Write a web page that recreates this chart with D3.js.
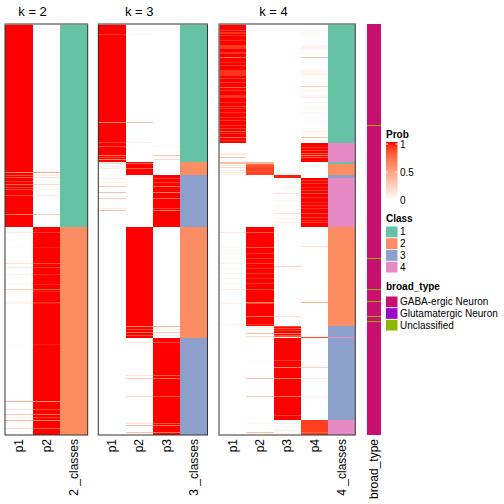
<!DOCTYPE html>
<html><head><meta charset="utf-8">
<script src="https://cdn.jsdelivr.net/npm/d3@7"></script>
<style>body{margin:0;background:#fff}svg{display:block}text{font-family:"Liberation Sans",Arial,Helvetica,sans-serif}</style>
</head><body>
<svg id="chart" width="504" height="504"></svg>
<script>
// ---------------- DATA ----------------
// number of samples (rows); entries are [startRow, endRow, value], later entries override earlier ones
const nRows = 411;
const panelTitles = ["k = 2", "k = 3", "k = 4"];
const classLevels = ["1", "2", "3", "4"];
const classColors = ["#66C2A5", "#FC8D62", "#8DA0CB", "#E78AC3"];
const broadLevels = ["GABA-ergic Neuron", "Glutamatergic Neuron", "Unclassified"];
const broadColors = ["#C8106E", "#9A0AC9", "#8DB600"];
const probTicks = [0, 0.5, 1];

// k = 2
const k2_class = [[0,203,1],[203,411,2]];
const k2_p1 = [[0,203,1],[203,411,0],
  [148,149,0.55],[151,152,0.85],[153,154,0.8],[157,158,0.9],[160,161,0.75],[163,164,0.9],[165,166,0.85],[171,172,0.85],[190,191,0.65],
  [208,209,0.1],[223,224,0.03],[239,240,0.15],[243,244,0.1],[250,251,0.08],[260,261,0.05],[265,266,0.25],[267,268,0.05],
  [278,279,0.08],[279,280,0.03],[320,321,0.03],[377,378,0.45],[385,386,0.15],[390,391,0.3],[393,394,0.1],[396,397,0.4],[404,405,0.2]];
const k2_p2 = [[0,203,0],[203,411,1],
  [148,149,0.45],[151,152,0.1],[153,154,0.15],[157,158,0.05],[160,161,0.2],[163,164,0.06],[165,166,0.08],[171,172,0.1],[190,191,0.3],
  [208,209,0.9],[223,224,0.97],[239,240,0.85],[243,244,0.9],[250,251,0.92],[260,261,0.95],[265,266,0.75],[267,268,0.95],
  [278,279,0.92],[279,280,0.97],[320,321,0.97],[377,378,0.55],[385,386,0.85],[390,391,0.7],[393,394,0.9],[396,397,0.6],[404,405,0.8]];

// k = 3
const k3_class = [[0,138,1],[138,151,2],[151,203,3],[203,314,2],[314,411,3]];
const k3_p1 = [[0,138,1],[138,411,0],
  [10,11,0.9],[98,99,0.6],[118,119,0.85],[122,123,0.85],[131,132,0.7],[133,134,0.9],[135,136,0.6],
  [139,140,0.2],[142,143,0.08],[144,145,0.1],[154,155,0.1],[158,159,0.08],[162,163,0.3],[168,169,0.35],[174,175,0.25],[184,185,0.1],[186,187,0.35]];
const k3_p2 = [[0,138,0],[138,151,1],[151,203,0],[203,314,1],[314,411,0],
  [10,11,0.05],[98,99,0.35],[118,119,0.08],[139,140,0.75],[144,145,0.8],
  [302,303,0.6],[305,306,0.85],[308,309,0.7],[311,312,0.85],
  [318,319,0.1],[351,352,0.15],[354,355,0.3],[372,373,0.2],[399,400,0.15],[401,402,0.35],[408,409,0.35]];
const k3_p3 = [[0,151,0],[151,203,1],[203,314,0],[314,411,1],
  [122,123,0.05],[131,132,0.3],[135,136,0.2],
  [154,155,0.9],[158,159,0.9],[162,163,0.7],[168,169,0.65],[174,175,0.75],[184,185,0.9],[186,187,0.65],
  [302,303,0.4],[305,306,0.1],[308,309,0.25],[311,312,0.1],
  [318,319,0.85],[351,352,0.8],[354,355,0.7],[372,373,0.8],[399,400,0.85],[401,402,0.65],[408,409,0.65]];

// k = 4
const k4_class = [[0,119,1],[119,138,4],[138,140,1],[140,151,2],[151,154,3],[154,203,4],[203,302,2],[302,396,3],[396,411,4],[313,314,4]];
const k4_p1 = [[0,119,1],[119,411,0],
  [6,7,0.88],[8,10,0.93],[11,12,0.92],[16,17,0.94],[21,25,0.92],[28,30,0.93],[33,34,0.7],[38,39,0.94],[41,42,0.9],
  [46,52,0.93],[54,55,0.9],[58,59,0.9],[63,64,0.75],[66,67,0.9],[71,74,0.93],[78,79,0.92],[82,83,0.9],[84,85,0.93],
  [88,89,0.92],[93,94,0.9],[96,97,0.93],[101,102,0.92],[104,105,0.9],[107,108,0.8],[109,110,0.93],[113,114,0.75],[116,117,0.92],
  [129,130,0.1],[130,131,0.15],[133,134,0.35],[138,140,0.35],[141,142,0.15],[143,144,0.2],[146,147,0.1],[148,149,0.15],[150,151,0.1],
  [208,209,0.12],[223,224,0.05],[226,227,0.04],[229,230,0.05],[234,235,0.04],[239,240,0.08],[244,245,0.06],[249,250,0.05],
  [254,255,0.05],[259,260,0.04],[265,266,0.12],[279,280,0.06],[289,290,0.05],[293,294,0.04],[300,301,0.08]];
const k4_p2 = [[0,140,0],[140,151,0.88],[151,203,0],[203,302,1],[302,411,0],
  [138,140,0.4],[140,141,0.7],[142,143,0.8],[144,145,0.9],[147,148,0.85],[149,150,0.9],
  [208,209,0.8],[223,224,0.8],[229,230,0.93],[234,235,0.9],[239,240,0.88],[244,245,0.92],[249,250,0.9],[254,255,0.93],
  [259,260,0.92],[265,266,0.85],[278,279,0.6],[279,280,0.88],[292,293,0.7],[300,301,0.9],
  [303,304,0.1],[305,306,0.05],[309,310,0.35],[312,313,0.2],[318,319,0.03],[336,337,0.03],[354,355,0.35],[372,373,0.3],
  [399,400,0.05],[401,402,0.05],[404,405,0.04],[408,409,0.35]];
const k4_p3 = [[0,151,0],[151,154,0.97],[154,302,0],[302,396,1],[396,411,0],
  [156,157,0.05],[159,160,0.05],[163,164,0.04],[169,170,0.15],[176,177,0.06],[181,182,0.04],[189,190,0.15],[194,195,0.06],[198,199,0.1],
  [242,243,0.25],[292,293,0.15],
  [302,303,0.85],[304,305,0.8],[306,307,0.9],[309,310,0.65],[311,312,0.8],[312,313,0.85],[313,314,0],
  [336,337,0.9],[343,344,0.6],[354,355,0.6],[372,373,0.65],[391,392,0.9],
  [399,400,0.1],[402,403,0.05],[406,407,0.1],[409,410,0.05]];
const k4_p4 = [[0,119,0],[119,138,1],[138,154,0],[154,203,1],[203,396,0],[396,411,0.9],[313,314,0.88],
  [6,7,0.05],[8,9,0.04],[11,12,0.05],[21,25,0.06],[28,29,0.04],[33,34,0.35],[38,39,0.04],[46,52,0.05],[54,55,0.04],[58,59,0.05],
  [62,63,0.3],[66,67,0.08],[71,74,0.06],[78,79,0.04],[84,85,0.05],[88,89,0.05],[96,97,0.04],[104,105,0.05],[107,108,0.08],
  [109,110,0.05],[113,114,0.35],[116,117,0.05],
  [123,124,0.92],[126,127,0.9],[129,130,0.8],[131,132,0.65],[133,134,0.8],
  [156,157,0.9],[159,160,0.92],[163,164,0.93],[166,167,0.9],[169,170,0.85],[173,174,0.9],[178,179,0.93],[181,182,0.9],
  [184,185,0.92],[189,190,0.85],[193,194,0.9],[196,197,0.92],[198,199,0.88],
  [222,223,0.2],[278,279,0.45],[343,344,0.25],[354,355,0.1],[372,373,0.08],[408,409,0.75]];

// broad_type annotation (index into broadLevels)
const broadType = [[0,411,0],[101,102,2],[234,235,2],[265,266,2],[277,278,2],[292,293,2],[297,298,2]];

// ---------------- DRAW ----------------
const svg = d3.select("#chart");
const y = d3.scaleLinear().domain([0, nRows]).range([24, 435]);
const prob = d3.scaleLinear().domain([0, 1]).range(["#FFFFFF", "#FF0000"]).interpolate(d3.interpolateLab);
const classColor = d3.scaleOrdinal().domain([1,2,3,4]).range(classColors);
const broadColor = d3.scaleOrdinal().domain([0,1,2]).range(broadColors);

function expand(segs) {
  const a = new Array(nRows).fill(0);
  segs.forEach(([s, e, v]) => { for (let i = s; i < e; i++) a[i] = v; });
  return a;
}
function runs(arr) {
  const out = []; let s = 0;
  for (let i = 1; i <= arr.length; i++) {
    if (i === arr.length || arr[i] !== arr[s]) { out.push({s, e: i, v: arr[s]}); s = i; }
  }
  return out;
}

const panels = [
  {title: panelTitles[0], range: [5, 87.7], cols: [["p1", k2_p1, "p"], ["p2", k2_p2, "p"], ["2 _classes", k2_class, "c"]]},
  {title: panelTitles[1], range: [98.3, 207.5], cols: [["p1", k3_p1, "p"], ["p2", k3_p2, "p"], ["p3", k3_p3, "p"], ["3 _classes", k3_class, "c"]]},
  {title: panelTitles[2], range: [219, 355.3], cols: [["p1", k4_p1, "p"], ["p2", k4_p2, "p"], ["p3", k4_p3, "p"], ["p4", k4_p4, "p"], ["4 _classes", k4_class, "c"]]}
];

panels.forEach((p, pi) => {
  const x = d3.scaleBand().domain(p.cols.map(c => c[0])).range(p.range).padding(0);
  const g = svg.append("g");
  p.cols.forEach(([name, segs, type]) => {
    const rs = runs(expand(segs));
    g.selectAll(null).data(rs).join("rect")
      .attr("x", x(name)).attr("width", x.bandwidth())
      .attr("y", d => y(d.s)).attr("height", d => y(d.e) - y(d.s))
      .attr("fill", d => type === "p" ? prob(d.v) : classColor(d.v))
      .attr("shape-rendering", "crispEdges");
    svg.append("text")
      .attr("transform", `translate(${x(name) + x.bandwidth() / 2},439) rotate(-90)`)
      .attr("text-anchor", "end").attr("dy", "0.35em")
      .attr("font-size", 12).attr("fill", "#000").text(name);
  });
  // border
  g.append("rect").attr("x", p.range[0]).attr("y", y(0)).attr("width", p.range[1] - p.range[0]).attr("height", y(nRows) - y(0))
    .attr("fill", "none").attr("stroke", "#333").attr("stroke-width", 1);
  g.append("line").attr("x1", p.range[0]).attr("x2", p.range[1]).attr("y1", y(0)).attr("y2", y(0))
    .attr("stroke", "#999").attr("stroke-width", 1.5);
  if (pi === 2) g.append("line").attr("x1", p.range[0]).attr("x2", p.range[0]).attr("y1", y(0)).attr("y2", y(nRows))
    .attr("stroke", "#999").attr("stroke-width", 1.2);
  // title centred over probability columns
  const pcols = p.cols.filter(c => c[2] === "p");
  const cx = (x(pcols[0][0]) + x(pcols[pcols.length - 1][0]) + x.bandwidth()) / 2;
  svg.append("text").attr("x", cx).attr("y", 16).attr("text-anchor", "middle")
    .attr("font-size", 13).text(p.title);
});

// broad_type bar
const bx = d3.scaleBand().domain(["broad_type"]).range([367, 381]);
svg.selectAll(null).data(runs(expand(broadType))).join("rect")
  .attr("x", bx("broad_type")).attr("width", bx.bandwidth())
  .attr("y", d => y(d.s)).attr("height", d => y(d.e) - y(d.s))
  .attr("fill", d => broadColor(d.v)).attr("shape-rendering", "crispEdges");
svg.append("text").attr("transform", `translate(${bx("broad_type") + bx.bandwidth() / 2},439) rotate(-90)`)
  .attr("text-anchor", "end").attr("dy", "0.35em").attr("font-size", 12).text("broad_type");

// ---------------- LEGENDS ----------------
const lx = 386, lw = 11.5;
const leg = svg.append("g");
leg.append("text").attr("x", lx).attr("y", 137.5).attr("font-size", 10).attr("font-weight", "bold").text("Prob");
const defs = svg.append("defs");
const grad = defs.append("linearGradient").attr("id", "pg").attr("x1", 0).attr("x2", 0).attr("y1", 1).attr("y2", 0);
d3.range(0, 1.0001, 0.1).forEach(t => grad.append("stop").attr("offset", t).attr("stop-color", prob(t)));
const ly = d3.scaleLinear().domain([0, 1]).range([200, 144]);
leg.append("rect").attr("x", lx).attr("y", 142).attr("width", lw).attr("height", 58).attr("fill", "url(#pg)");
probTicks.forEach(t => {
  if (t > 0) {
    leg.append("line").attr("x1", lx).attr("x2", lx + 2).attr("y1", ly(t)).attr("y2", ly(t)).attr("stroke", "#fff");
    leg.append("line").attr("x1", lx + lw - 2).attr("x2", lx + lw).attr("y1", ly(t)).attr("y2", ly(t)).attr("stroke", "#fff");
  }
  leg.append("text").attr("x", lx + lw + 2.5).attr("y", ly(t)).attr("dy", "0.35em").attr("font-size", 10).text(t);
});

leg.append("text").attr("x", lx).attr("y", 221.5).attr("font-size", 10).attr("font-weight", "bold").text("Class");
const cy = d3.scaleBand().domain(classLevels).range([226.5, 272.5]).paddingInner(0.08);
classLevels.forEach((c, i) => {
  leg.append("rect").attr("x", lx).attr("y", cy(c)).attr("width", lw).attr("height", cy.bandwidth()).attr("fill", classColors[i]);
  leg.append("text").attr("x", lx + lw + 2.5).attr("y", cy(c) + cy.bandwidth() / 2).attr("dy", "0.35em").attr("font-size", 10).text(c);
});

leg.append("text").attr("x", lx).attr("y", 290).attr("font-size", 10).attr("font-weight", "bold").text("broad_type");
const by = d3.scaleBand().domain(broadLevels).range([296.5, 330.5]).paddingInner(0.08);
broadLevels.forEach((c, i) => {
  leg.append("rect").attr("x", lx).attr("y", by(c)).attr("width", lw).attr("height", by.bandwidth()).attr("fill", broadColors[i]);
  leg.append("text").attr("x", lx + lw + 2.5).attr("y", by(c) + by.bandwidth() / 2).attr("dy", "0.35em").attr("font-size", 10).text(c);
});
</script>
</body></html>
